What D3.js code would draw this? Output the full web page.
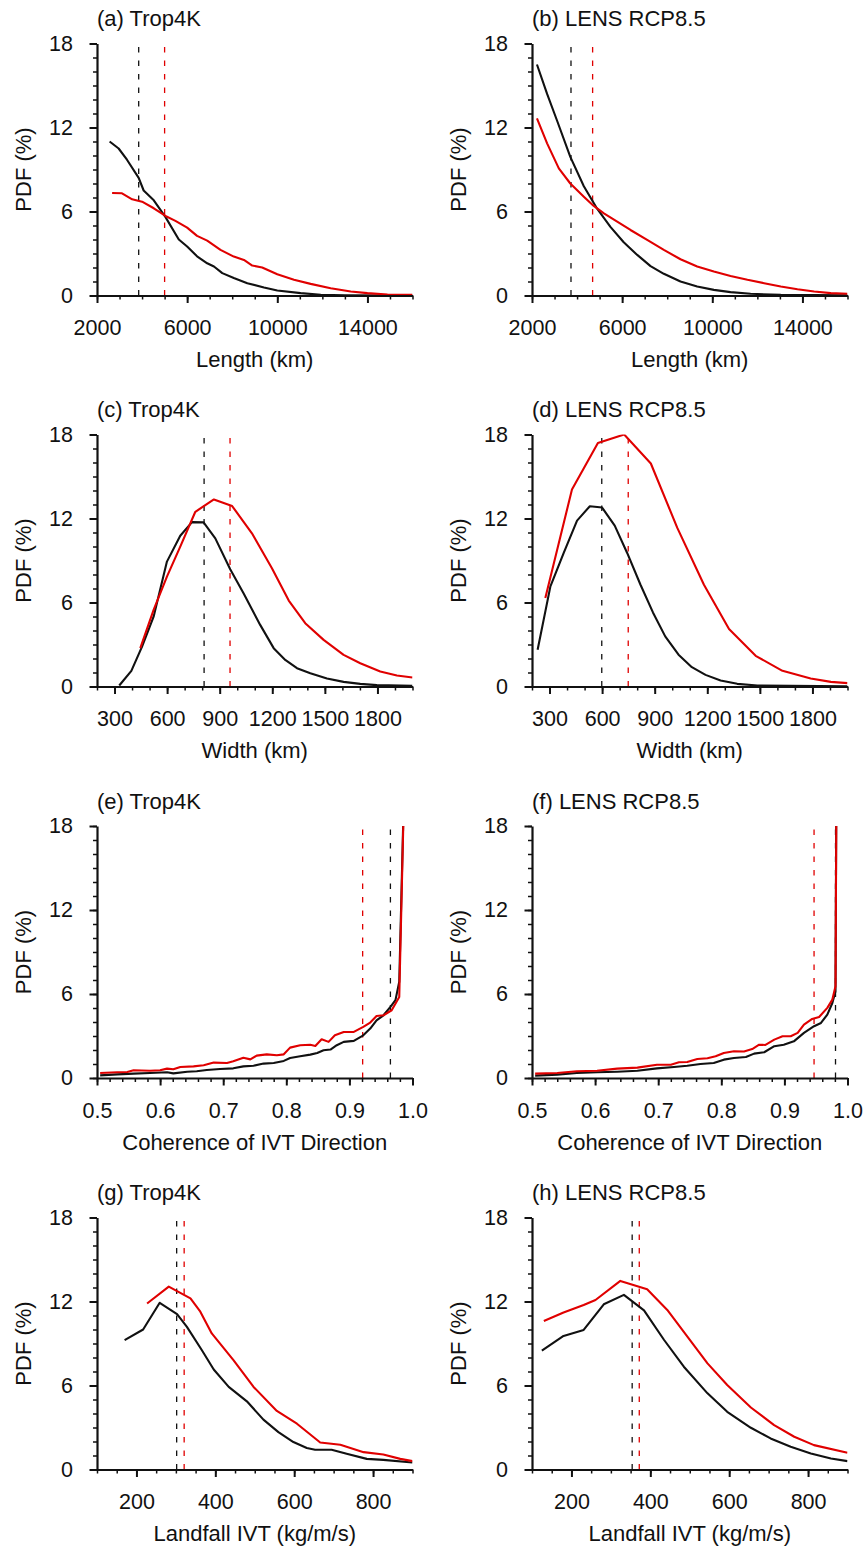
<!DOCTYPE html>
<html>
<head>
<meta charset="utf-8">
<script src="https://cdn.jsdelivr.net/npm/d3@7"></script>
<style>
  body { margin: 0; background: #fff; }
  svg text { font-family: "Liberation Sans", Arial, Helvetica, sans-serif; fill: #111; }
</style>
</head>
<body>
<svg id="fig" width="863" height="1546"></svg>
<script>

// ---- data (black = control, red = warming) ----

// (a) Length, Trop4K
const a_blk_x = [2560, 2960, 3330, 3850, 4070, 4520, 5040, 5630, 6000, 6440, 6890, 7190, 7560, 8070, 8670, 9410, 10000, 11040, 11930, 13000, 16000];
const a_blk_y = [11.0, 10.5, 9.7, 8.4, 7.5, 6.8, 5.6, 4.0, 3.5, 2.8, 2.3, 2.07, 1.6, 1.25, 0.88, 0.57, 0.36, 0.17, 0.05, 0.02, 0.0];
const a_red_x = [2670, 3110, 3560, 4000, 4520, 5040, 5480, 6000, 6440, 6890, 7480, 8070, 8520, 8890, 9330, 10000, 10740, 11480, 12370, 13260, 14000, 14890, 16000];
const a_red_y = [7.32, 7.30, 6.87, 6.70, 6.23, 5.68, 5.33, 4.85, 4.26, 3.92, 3.26, 2.78, 2.54, 2.14, 2.0, 1.52, 1.12, 0.83, 0.52, 0.29, 0.17, 0.07, 0.05];

// (b) Length, LENS RCP8.5
const b_blk_x = [2220, 2670, 3110, 3700, 4300, 4890, 5480, 6070, 6670, 7260, 7850, 8590, 9330, 10070, 10810, 11700, 13040, 16000];
const b_blk_y = [16.5, 14.4, 12.5, 9.9, 7.8, 6.2, 4.9, 3.8, 2.9, 2.1, 1.55, 1.0, 0.64, 0.40, 0.24, 0.12, 0.05, 0.02];
const b_red_x = [2220, 2670, 3190, 3700, 4300, 4740, 5190, 5780, 6370, 7110, 7850, 8590, 9330, 10070, 10810, 11560, 12300, 13040, 13780, 14520, 15260, 16000];
const b_red_y = [12.65, 10.87, 9.08, 8.0, 7.06, 6.4, 5.87, 5.28, 4.68, 3.97, 3.26, 2.59, 2.07, 1.71, 1.40, 1.12, 0.88, 0.64, 0.45, 0.29, 0.17, 0.12];

// (c) Width, Trop4K
const c_blk_x = [327, 396, 457, 523, 599, 675, 742, 808, 875, 960, 1036, 1131, 1208, 1274, 1341, 1417, 1512, 1607, 1702, 1797, 2000];
const c_blk_y = [0.07, 1.12, 2.85, 4.99, 8.92, 10.77, 11.74, 11.72, 10.58, 8.37, 6.66, 4.40, 2.74, 1.90, 1.31, 0.95, 0.57, 0.33, 0.19, 0.10, 0.05];
const c_red_x = [447, 523, 599, 675, 761, 867, 971, 1084, 1198, 1294, 1388, 1493, 1607, 1702, 1816, 1911, 2000];
const c_red_y = [2.74, 5.47, 7.85, 9.99, 12.48, 13.36, 12.89, 10.94, 8.45, 6.14, 4.52, 3.33, 2.26, 1.66, 1.07, 0.78, 0.64];

// (d) Width, LENS RCP8.5
const d_blk_x = [232, 305, 381, 457, 530, 600, 672, 743, 819, 890, 960, 1036, 1112, 1190, 1276, 1371, 1486, 2000];
const d_blk_y = [2.62, 7.15, 9.54, 11.85, 12.88, 12.78, 11.49, 9.54, 7.27, 5.29, 3.58, 2.27, 1.38, 0.83, 0.43, 0.19, 0.07, 0.02];
const d_red_x = [276, 428, 576, 726, 878, 1029, 1181, 1324, 1476, 1629, 1790, 1905, 2000];
const d_red_y = [6.32, 14.07, 17.4, 18.0, 15.93, 11.33, 7.27, 4.10, 2.19, 1.12, 0.57, 0.33, 0.24];

// (e) Coherence, Trop4K
const e_blk_x = [0.505, 0.532, 0.558, 0.584, 0.611, 0.621, 0.643, 0.658, 0.674, 0.695, 0.716, 0.732, 0.748, 0.764, 0.780, 0.796, 0.806, 0.822, 0.838, 0.849, 0.859, 0.870, 0.880, 0.891, 0.907, 0.922, 0.933, 0.943, 0.954, 0.965, 0.973, 0.979, 0.989];
const e_blk_y = [0.19, 0.26, 0.31, 0.36, 0.41, 0.33, 0.45, 0.48, 0.57, 0.64, 0.69, 0.83, 0.88, 1.03, 1.07, 1.22, 1.43, 1.55, 1.67, 1.79, 1.98, 2.03, 2.34, 2.58, 2.65, 3.05, 3.53, 4.12, 4.48, 5.08, 5.56, 6.87, 25];
const e_red_x = [0.505, 0.532, 0.548, 0.558, 0.584, 0.600, 0.611, 0.621, 0.632, 0.653, 0.669, 0.685, 0.706, 0.716, 0.732, 0.743, 0.753, 0.769, 0.785, 0.796, 0.806, 0.822, 0.838, 0.846, 0.856, 0.867, 0.877, 0.891, 0.907, 0.922, 0.933, 0.943, 0.954, 0.967, 0.979, 0.989];
const e_red_y = [0.36, 0.41, 0.43, 0.55, 0.52, 0.55, 0.67, 0.62, 0.79, 0.83, 0.91, 1.10, 1.07, 1.19, 1.45, 1.33, 1.60, 1.69, 1.62, 1.69, 2.17, 2.34, 2.38, 2.29, 2.77, 2.58, 3.05, 3.29, 3.29, 3.65, 3.96, 4.43, 4.48, 4.84, 5.79, 25];

// (f) Coherence, LENS RCP8.5
const f_blk_x = [0.505, 0.540, 0.571, 0.603, 0.635, 0.667, 0.698, 0.725, 0.746, 0.767, 0.788, 0.804, 0.820, 0.839, 0.852, 0.868, 0.884, 0.899, 0.915, 0.931, 0.947, 0.958, 0.968, 0.976, 0.981, 0.985];
const f_blk_y = [0.17, 0.24, 0.36, 0.41, 0.45, 0.52, 0.69, 0.79, 0.88, 1.00, 1.07, 1.31, 1.43, 1.50, 1.74, 1.84, 2.27, 2.38, 2.62, 3.22, 3.70, 3.93, 4.53, 5.36, 6.2, 50];
const f_red_x = [0.505, 0.540, 0.571, 0.603, 0.635, 0.667, 0.698, 0.720, 0.733, 0.746, 0.762, 0.778, 0.791, 0.804, 0.820, 0.836, 0.849, 0.860, 0.870, 0.884, 0.897, 0.910, 0.921, 0.931, 0.944, 0.955, 0.968, 0.976, 0.981, 0.985];
const f_red_y = [0.31, 0.36, 0.48, 0.52, 0.67, 0.74, 0.95, 0.95, 1.12, 1.14, 1.36, 1.41, 1.55, 1.79, 1.91, 1.89, 2.07, 2.38, 2.36, 2.74, 2.98, 2.98, 3.22, 3.82, 4.22, 4.36, 5.01, 5.60, 6.56, 45];

// (g) Landfall IVT, Trop4K
const g_blk_x = [170, 217, 259, 303, 328, 366, 396, 434, 480, 522, 560, 598, 632, 653, 695, 733, 784, 826, 900];
const g_blk_y = [9.24, 10.0, 11.91, 11.10, 10.19, 8.52, 7.14, 5.90, 4.87, 3.56, 2.67, 1.96, 1.53, 1.41, 1.41, 1.12, 0.76, 0.69, 0.50];
const g_red_x = [227, 282, 337, 362, 391, 446, 497, 556, 607, 666, 717, 776, 826, 869, 900];
const g_red_y = [11.86, 13.06, 12.22, 11.27, 9.72, 7.81, 5.90, 4.18, 3.27, 1.93, 1.77, 1.24, 1.07, 0.76, 0.60];

// (h) Landfall IVT, LENS RCP8.5
const h_blk_x = [125, 180, 231, 282, 333, 384, 435, 485, 545, 595, 655, 705, 756, 807, 858, 900];
const h_blk_y = [8.49, 9.54, 9.97, 11.80, 12.47, 11.37, 9.25, 7.34, 5.44, 4.12, 2.98, 2.22, 1.62, 1.14, 0.79, 0.60];
const h_red_x = [130, 180, 231, 261, 324, 392, 443, 494, 545, 595, 655, 714, 765, 815, 900];
const h_red_y = [10.61, 11.21, 11.75, 12.11, 13.47, 12.88, 11.40, 9.49, 7.58, 6.03, 4.43, 3.17, 2.34, 1.74, 1.19];

// mean values (dashed lines): [black, red]
const meanLen   = [[3850, 5000], [3730, 4690]];
const meanWidth = [[811, 959], [598, 749]];
const meanCoh   = [[0.965, 0.921], [0.981, 0.947]];
const meanIVT   = [[302, 321], [354, 372]];

const panelTitles = ["(a) Trop4K", "(b) LENS RCP8.5", "(c) Trop4K", "(d) LENS RCP8.5",
                     "(e) Trop4K", "(f) LENS RCP8.5", "(g) Trop4K", "(h) LENS RCP8.5"];
const xTitles = ["Length (km)", "Width (km)", "Coherence of IVT Direction", "Landfall IVT (kg/m/s)"];
const xDomains = [[2000, 16000], [200, 2000], [0.5, 1.0], [100, 900]];
const xMajor = [[2000, 6000, 10000, 14000], [300, 600, 900, 1200, 1500, 1800],
                [0.5, 0.6, 0.7, 0.8, 0.9, 1.0], [200, 400, 600, 800]];
const xMinorStep = [1000, 100, 0.02, 50];
const xFormats = [d3.format("d"), d3.format("d"), d3.format(".1f"), d3.format("d")];
const yTicks = [0, 6, 12, 18];
const yTitle = "PDF (%)";

// ---- layout ----
const BLACK = "#111", RED = "#e00000";
const lefts = [97, 532], tops = [43.5, 434.5, 826, 1217.5];
const W = 315.5, H = 252;

const panels = [
  [a_blk_x, a_blk_y, a_red_x, a_red_y], [b_blk_x, b_blk_y, b_red_x, b_red_y],
  [c_blk_x, c_blk_y, c_red_x, c_red_y], [d_blk_x, d_blk_y, d_red_x, d_red_y],
  [e_blk_x, e_blk_y, e_red_x, e_red_y], [f_blk_x, f_blk_y, f_red_x, f_red_y],
  [g_blk_x, g_blk_y, g_red_x, g_red_y], [h_blk_x, h_blk_y, h_red_x, h_red_y]
];
const means = [meanLen, meanWidth, meanCoh, meanIVT];

const svg = d3.select("#fig");

panels.forEach(function(p, i){
  const row = Math.floor(i / 2), col = i % 2;
  const g = svg.append("g").attr("transform", "translate(" + lefts[col] + "," + tops[row] + ")");

  const x = d3.scaleLinear().domain(xDomains[row]).range([0, W]);
  const y = d3.scaleLinear().domain([0, 18]).range([H, 0]);

  const clipId = "clip" + i;
  g.append("clipPath").attr("id", clipId)
    .append("rect").attr("x", 0).attr("y", 0).attr("width", W).attr("height", H);

  // dashed mean lines
  const m = means[row][col];
  [[m[0], BLACK], [m[1], RED]].forEach(function(d){
    g.append("line")
      .attr("x1", x(d[0])).attr("x2", x(d[0]))
      .attr("y1", y(0)).attr("y2", y(18))
      .attr("stroke", d[1]).attr("stroke-width", 1.3)
      .attr("stroke-dasharray", "5.5,8");
  });

  const line = d3.line().x(function(d){ return x(d[0]); }).y(function(d){ return y(d[1]); });
  const blk = d3.zip(p[0], p[1]), red = d3.zip(p[2], p[3]);
  const lines = g.append("g").attr("clip-path", "url(#" + clipId + ")");
  lines.append("path").datum(blk).attr("d", line)
    .attr("fill", "none").attr("stroke", BLACK).attr("stroke-width", 2.1).attr("stroke-linejoin", "round");
  lines.append("path").datum(red).attr("d", line)
    .attr("fill", "none").attr("stroke", RED).attr("stroke-width", 2.1).attr("stroke-linejoin", "round");

  // minor ticks
  const xd = xDomains[row], st = xMinorStep[row];
  const xMinor = d3.range(Math.round((xd[1] - xd[0]) / st) + 1).map(function(k){ return xd[0] + k * st; });
  g.append("g").attr("transform", "translate(0," + H + ")")
    .call(d3.axisBottom(x).tickValues(xMinor).tickSize(4).tickSizeOuter(0).tickFormat(""))
    .call(function(a){ a.select(".domain").remove(); a.selectAll("line").attr("stroke-width", 1.5).attr("stroke", BLACK); });
  g.append("g")
    .call(d3.axisLeft(y).tickValues(d3.range(0, 19, 1)).tickSize(4).tickSizeOuter(0).tickFormat(""))
    .call(function(a){ a.select(".domain").remove(); a.selectAll("line").attr("stroke-width", 1.5).attr("stroke", BLACK); });

  // major axes
  g.append("g").attr("transform", "translate(0," + H + ")")
    .call(d3.axisBottom(x).tickValues(xMajor[row]).tickSize(7.5).tickSizeOuter(0).tickPadding(17).tickFormat(xFormats[row]))
    .call(function(a){
      a.select(".domain").attr("stroke-width", 2.2).attr("stroke", BLACK);
      a.selectAll("line").attr("stroke-width", 2).attr("stroke", BLACK);
      a.selectAll("text").attr("font-size", 21.5).attr("fill", "#111");
    });
  g.append("g")
    .call(d3.axisLeft(y).tickValues(yTicks).tickSize(7.5).tickSizeOuter(0).tickPadding(16.5))
    .call(function(a){
      a.select(".domain").attr("stroke-width", 2.2).attr("stroke", BLACK);
      a.selectAll("line").attr("stroke-width", 2).attr("stroke", BLACK);
      a.selectAll("text").attr("font-size", 21.5).attr("fill", "#111");
    });

  // titles
  g.append("text").attr("x", 0).attr("y", -17.5)
    .attr("font-size", 22).text(panelTitles[i]);
  g.append("text").attr("x", W / 2).attr("y", H + 64).attr("dy", "0.35em")
    .attr("text-anchor", "middle").attr("font-size", 22).text(xTitles[row]);
  g.append("text")
    .attr("transform", "translate(-74," + (H / 2) + ") rotate(-90)")
    .attr("text-anchor", "middle").attr("dy", "0.35em")
    .attr("font-size", 22).text(yTitle);
});

</script>
</body>
</html>
